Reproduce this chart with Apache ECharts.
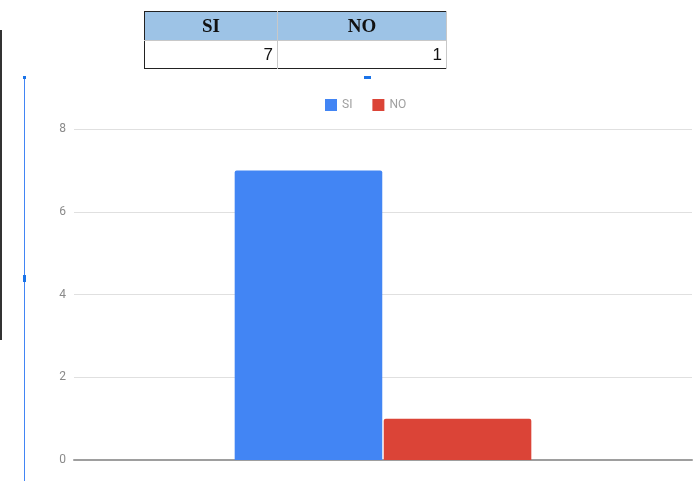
<!DOCTYPE html>
<html>
<head>
<meta charset="utf-8">
<script src="https://cdn.jsdelivr.net/npm/echarts@6/dist/echarts.min.js"></script>
<style>
  html, body { margin: 0; padding: 0; background: #fff; }
  #wrap { position: relative; width: 694px; height: 481px; }
  #chart { position: absolute; left: 0; top: 0; width: 694px; height: 481px; }
  #tbl {
    position: absolute; left: 144px; top: 11px; border-collapse: collapse;
    border: 1.5px solid #222;
  }
  #tbl th {
    background: #9dc3e6; font-family: "Liberation Serif", serif; font-weight: bold;
    font-size: 19px; height: 28px; padding: 0; text-align: center; color: #111;
    border-right: 1px solid #c8c8c8;
  }
  #tbl td {
    font-family: "Liberation Sans", sans-serif; font-size: 17px; height: 27px;
    padding: 0 4px 0 0; text-align: right; color: #111; border-right: 1px solid #c8c8c8;
    border-top: 1px solid #c8c8c8;
  }
</style>
</head>
<body>
<div id="wrap">
  <div id="chart"></div>
  <table id="tbl"><thead><tr id="hrow"></tr></thead><tbody><tr id="vrow"></tr></tbody></table>
</div>
<script>
  // datos de la tabla y del gráfico
  var categories = [''];
  var seriesNames = ['SI', 'NO'];
  var siValues = [7];
  var noValues = [1];
  var yTicks = [0, 2, 4, 6, 8];
  var colors = ['#4285f4', '#db4437'];

  // tabla de arriba
  var colWidths = [132, 168];
  var hrow = document.getElementById('hrow');
  var vrow = document.getElementById('vrow');
  [siValues[0], noValues[0]].forEach(function (v, i) {
    var th = document.createElement('th');
    th.textContent = seriesNames[i];
    th.style.width = colWidths[i] + 'px';
    hrow.appendChild(th);
    var td = document.createElement('td');
    td.textContent = v;
    vrow.appendChild(td);
  });

  var myChart = echarts.init(document.getElementById('chart'));
  var option = {
    animation: false,
    backgroundColor: '#fff',
    color: colors,
    legend: {
      top: 94,
      left: 320,
      icon: 'rect',
      itemWidth: 12,
      itemHeight: 12,
      itemGap: 20,
      textStyle: { color: '#a0a0a0', fontSize: 12, fontFamily: 'Roboto' },
      data: seriesNames
    },
    grid: { left: 74, right: 2, top: 129, bottom: 21 },
    xAxis: {
      type: 'category',
      data: categories,
      axisLine: { show: true, lineStyle: { color: '#9e9e9e', width: 2 } },
      axisTick: { show: false },
      axisLabel: { show: false }
    },
    yAxis: {
      type: 'value',
      min: yTicks[0],
      max: yTicks[yTicks.length - 1],
      interval: 2,
      axisLine: { show: false },
      axisTick: { show: false },
      axisLabel: { color: '#8a8a8a', fontSize: 12, margin: 8, fontFamily: 'Roboto' },
      splitLine: { lineStyle: { color: '#e0e0e0', width: 1 } }
    },
    series: [{
      name: seriesNames[0],
      type: 'bar',
      data: siValues,
      barGap: '1%',
      barCategoryGap: '52%',
      itemStyle: { borderRadius: [2, 2, 0, 0] }
    }, {
      name: seriesNames[1],
      type: 'bar',
      data: noValues,
      itemStyle: { borderRadius: [2, 2, 0, 0] }
    }],
    graphic: [
      // restos del recorte de pantalla
      { type: 'rect', shape: { x: 0, y: 30, width: 2, height: 310 }, style: { fill: '#333' } },
      { type: 'rect', shape: { x: 24, y: 77, width: 1, height: 404 }, style: { fill: '#4285f4' } },
      { type: 'rect', shape: { x: 23, y: 76, width: 3, height: 3 }, style: { fill: '#1a73e8' } },
      { type: 'rect', shape: { x: 23, y: 275, width: 3, height: 7 }, style: { fill: '#1a73e8' } },
      { type: 'rect', shape: { x: 364, y: 76, width: 7, height: 3 }, style: { fill: '#1a73e8' } }
    ]
  };
  myChart.setOption(option);
</script>
</body>
</html>
